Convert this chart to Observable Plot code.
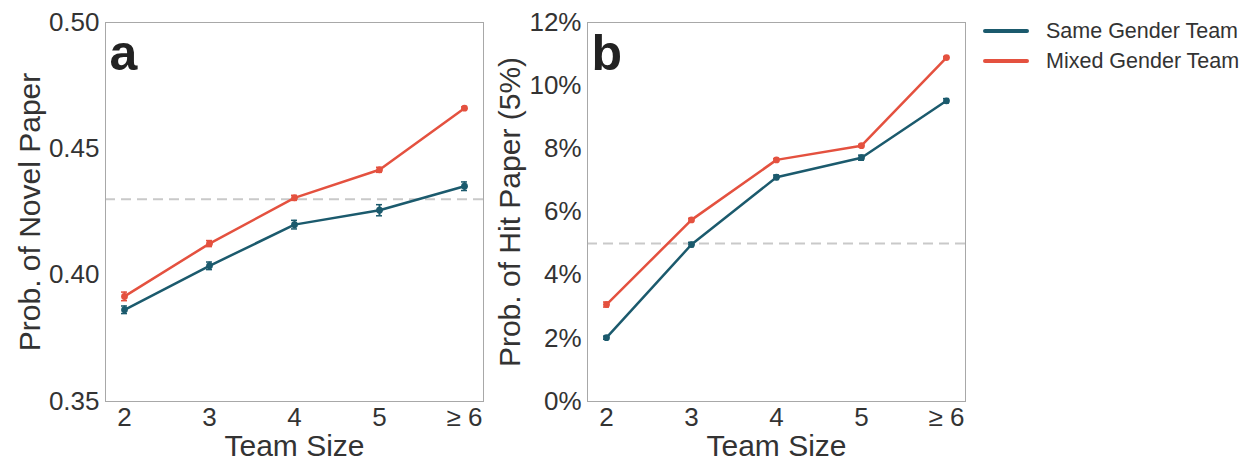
<!DOCTYPE html>
<html>
<head>
<meta charset="utf-8">
<script src="https://cdn.jsdelivr.net/npm/d3@7"></script>
<script src="https://cdn.jsdelivr.net/npm/@observablehq/plot@0.6"></script>
<style>
  body { margin: 0; background: #fff; font-family: "Liberation Sans", Arial, sans-serif; }
  #wrap { position: relative; width: 1248px; height: 459px; overflow: hidden; }
  #wrap svg { position: absolute; top: 0; }
  .legend { position: absolute; left: 983px; top: 16px; color: #333; font-size: 21.5px; }
  .legend .row { display: flex; align-items: center; height: 30px; }
  .legend .swatch { width: 46px; height: 4px; border-radius: 2px; margin-right: 17px; flex: none; }
  .legend .row span:last-child { white-space: nowrap; }
</style>
</head>
<body>
<div id="wrap"></div>
<script>
// Team size categories along the x axis
const teamSizes = ["2", "3", "4", "5", "≥ 6"];

// Panel a: probability of a novel paper
const novelSame = [0.3863, 0.4037, 0.4200, 0.4257, 0.4352];
const novelSameErr = [0.0015, 0.0015, 0.0017, 0.0022, 0.0017];
const novelMixed = [0.3916, 0.4125, 0.4306, 0.4417, 0.4661];
const novelMixedErr = [0.0017, 0.0012, 0.0010, 0.0010, 0.0005];
const novelBaseline = 0.43;
const novelTicks = [0.35, 0.40, 0.45, 0.50];

// Panel b: probability of a hit paper (top 5%)
const hitSame = [0.0202, 0.0497, 0.0710, 0.0772, 0.0952];
const hitSameErr = [0.0005, 0.0007, 0.0007, 0.0008, 0.0007];
const hitMixed = [0.0307, 0.0575, 0.0765, 0.0810, 0.1089];
const hitMixedErr = [0.0008, 0.0005, 0.0004, 0.0004, 0.0003];
const hitBaseline = 0.05;
const hitTicks = [0, 0.02, 0.04, 0.06, 0.08, 0.10, 0.12];

const groups = ["Same Gender Team", "Mixed Gender Team"];
const groupColors = ["#1b5a6d", "#e4513f"];
const textColor = "#333";
const font = '"Liberation Sans", Arial, sans-serif';

function rows(same, sameErr, mixed, mixedErr) {
  const out = [];
  [[groups[0], same, sameErr], [groups[1], mixed, mixedErr]].forEach(([group, vals, errs]) => {
    vals.forEach((v, i) => out.push({group, size: teamSizes[i], value: v, lo: v - errs[i], hi: v + errs[i]}));
  });
  return out;
}

function panel({letter, data, yDomain, yTicks, yFormat, baseline, yLabel, width, marginLeft, marginRight, labelDx}) {
  return Plot.plot({
    width, height: 459,
    marginLeft, marginRight, marginTop: 22, marginBottom: 58,
    style: {fontFamily: font, fontSize: "26px", background: "transparent", overflow: "visible"},
    // narrow bands: the band width is the width of the error-bar caps
    x: {type: "band", domain: teamSizes, paddingInner: 0.93, paddingOuter: 0.163, align: 0.5},
    y: {domain: yDomain},
    color: {domain: groups, range: groupColors},
    marks: [
      Plot.ruleY([baseline], {stroke: "#c9c9c9", strokeWidth: 2, strokeDasharray: "10,6"}),
      Plot.frame({stroke: "#a8a8a8", strokeWidth: 1}),
      Plot.axisY({ticks: yTicks, tickFormat: yFormat, tickSize: 0, tickPadding: 6, fontSize: 26, fill: textColor, label: null}),
      Plot.axisX({tickSize: 0, tickPadding: 6, fontSize: 26, fill: textColor, label: null}),
      Plot.line(data, {x: "size", y: "value", z: "group", stroke: "group", strokeWidth: 2.5}),
      Plot.ruleX(data, {x: "size", y1: "lo", y2: "hi", stroke: "group", strokeWidth: 2}),
      Plot.tickY(data, {x: "size", y: "lo", stroke: "group", strokeWidth: 1.5}),
      Plot.tickY(data, {x: "size", y: "hi", stroke: "group", strokeWidth: 1.5}),
      Plot.dot(data, {x: "size", y: "value", fill: "group", r: 3.4}),
      Plot.text([yLabel], {text: d => d, frameAnchor: "left", dx: labelDx, rotate: -90, textAnchor: "middle", lineAnchor: "middle", fontSize: 30, fill: textColor}),
      Plot.text(["Team Size"], {text: d => d, frameAnchor: "bottom", dy: 45, textAnchor: "middle", lineAnchor: "middle", fontSize: 30, fill: textColor}),
      Plot.text([letter], {text: d => d, frameAnchor: "top-left", dx: 4, dy: 12, lineAnchor: "top", textAnchor: "start", fontSize: 50, fontWeight: "bold", fill: "#222"})
    ]
  });
}

const wrap = document.getElementById("wrap");

const chartA = panel({
  letter: "a",
  data: rows(novelSame, novelSameErr, novelMixed, novelMixedErr),
  yDomain: [0.35, 0.50], yTicks: novelTicks, yFormat: d3.format(".2f"),
  baseline: novelBaseline, yLabel: "Prob. of Novel Paper",
  width: 486, marginLeft: 105, marginRight: 3, labelDx: -75
});
chartA.style.left = "0px";
wrap.appendChild(chartA);

const chartB = panel({
  letter: "b",
  data: rows(hitSame, hitSameErr, hitMixed, hitMixedErr),
  yDomain: [0, 0.12], yTicks: hitTicks, yFormat: d3.format(".0%"),
  baseline: hitBaseline, yLabel: "Prob. of Hit Paper (5%)",
  width: 484, marginLeft: 101, marginRight: 5, labelDx: -77
});
chartB.style.left = "486px";
wrap.appendChild(chartB);

// Legend
const legend = document.createElement("div");
legend.className = "legend";
groups.forEach((g, i) => {
  const row = document.createElement("div");
  row.className = "row";
  const sw = document.createElement("span");
  sw.className = "swatch";
  sw.style.background = groupColors[i];
  const label = document.createElement("span");
  label.textContent = g;
  row.appendChild(sw);
  row.appendChild(label);
  legend.appendChild(row);
});
wrap.appendChild(legend);
</script>
</body>
</html>
